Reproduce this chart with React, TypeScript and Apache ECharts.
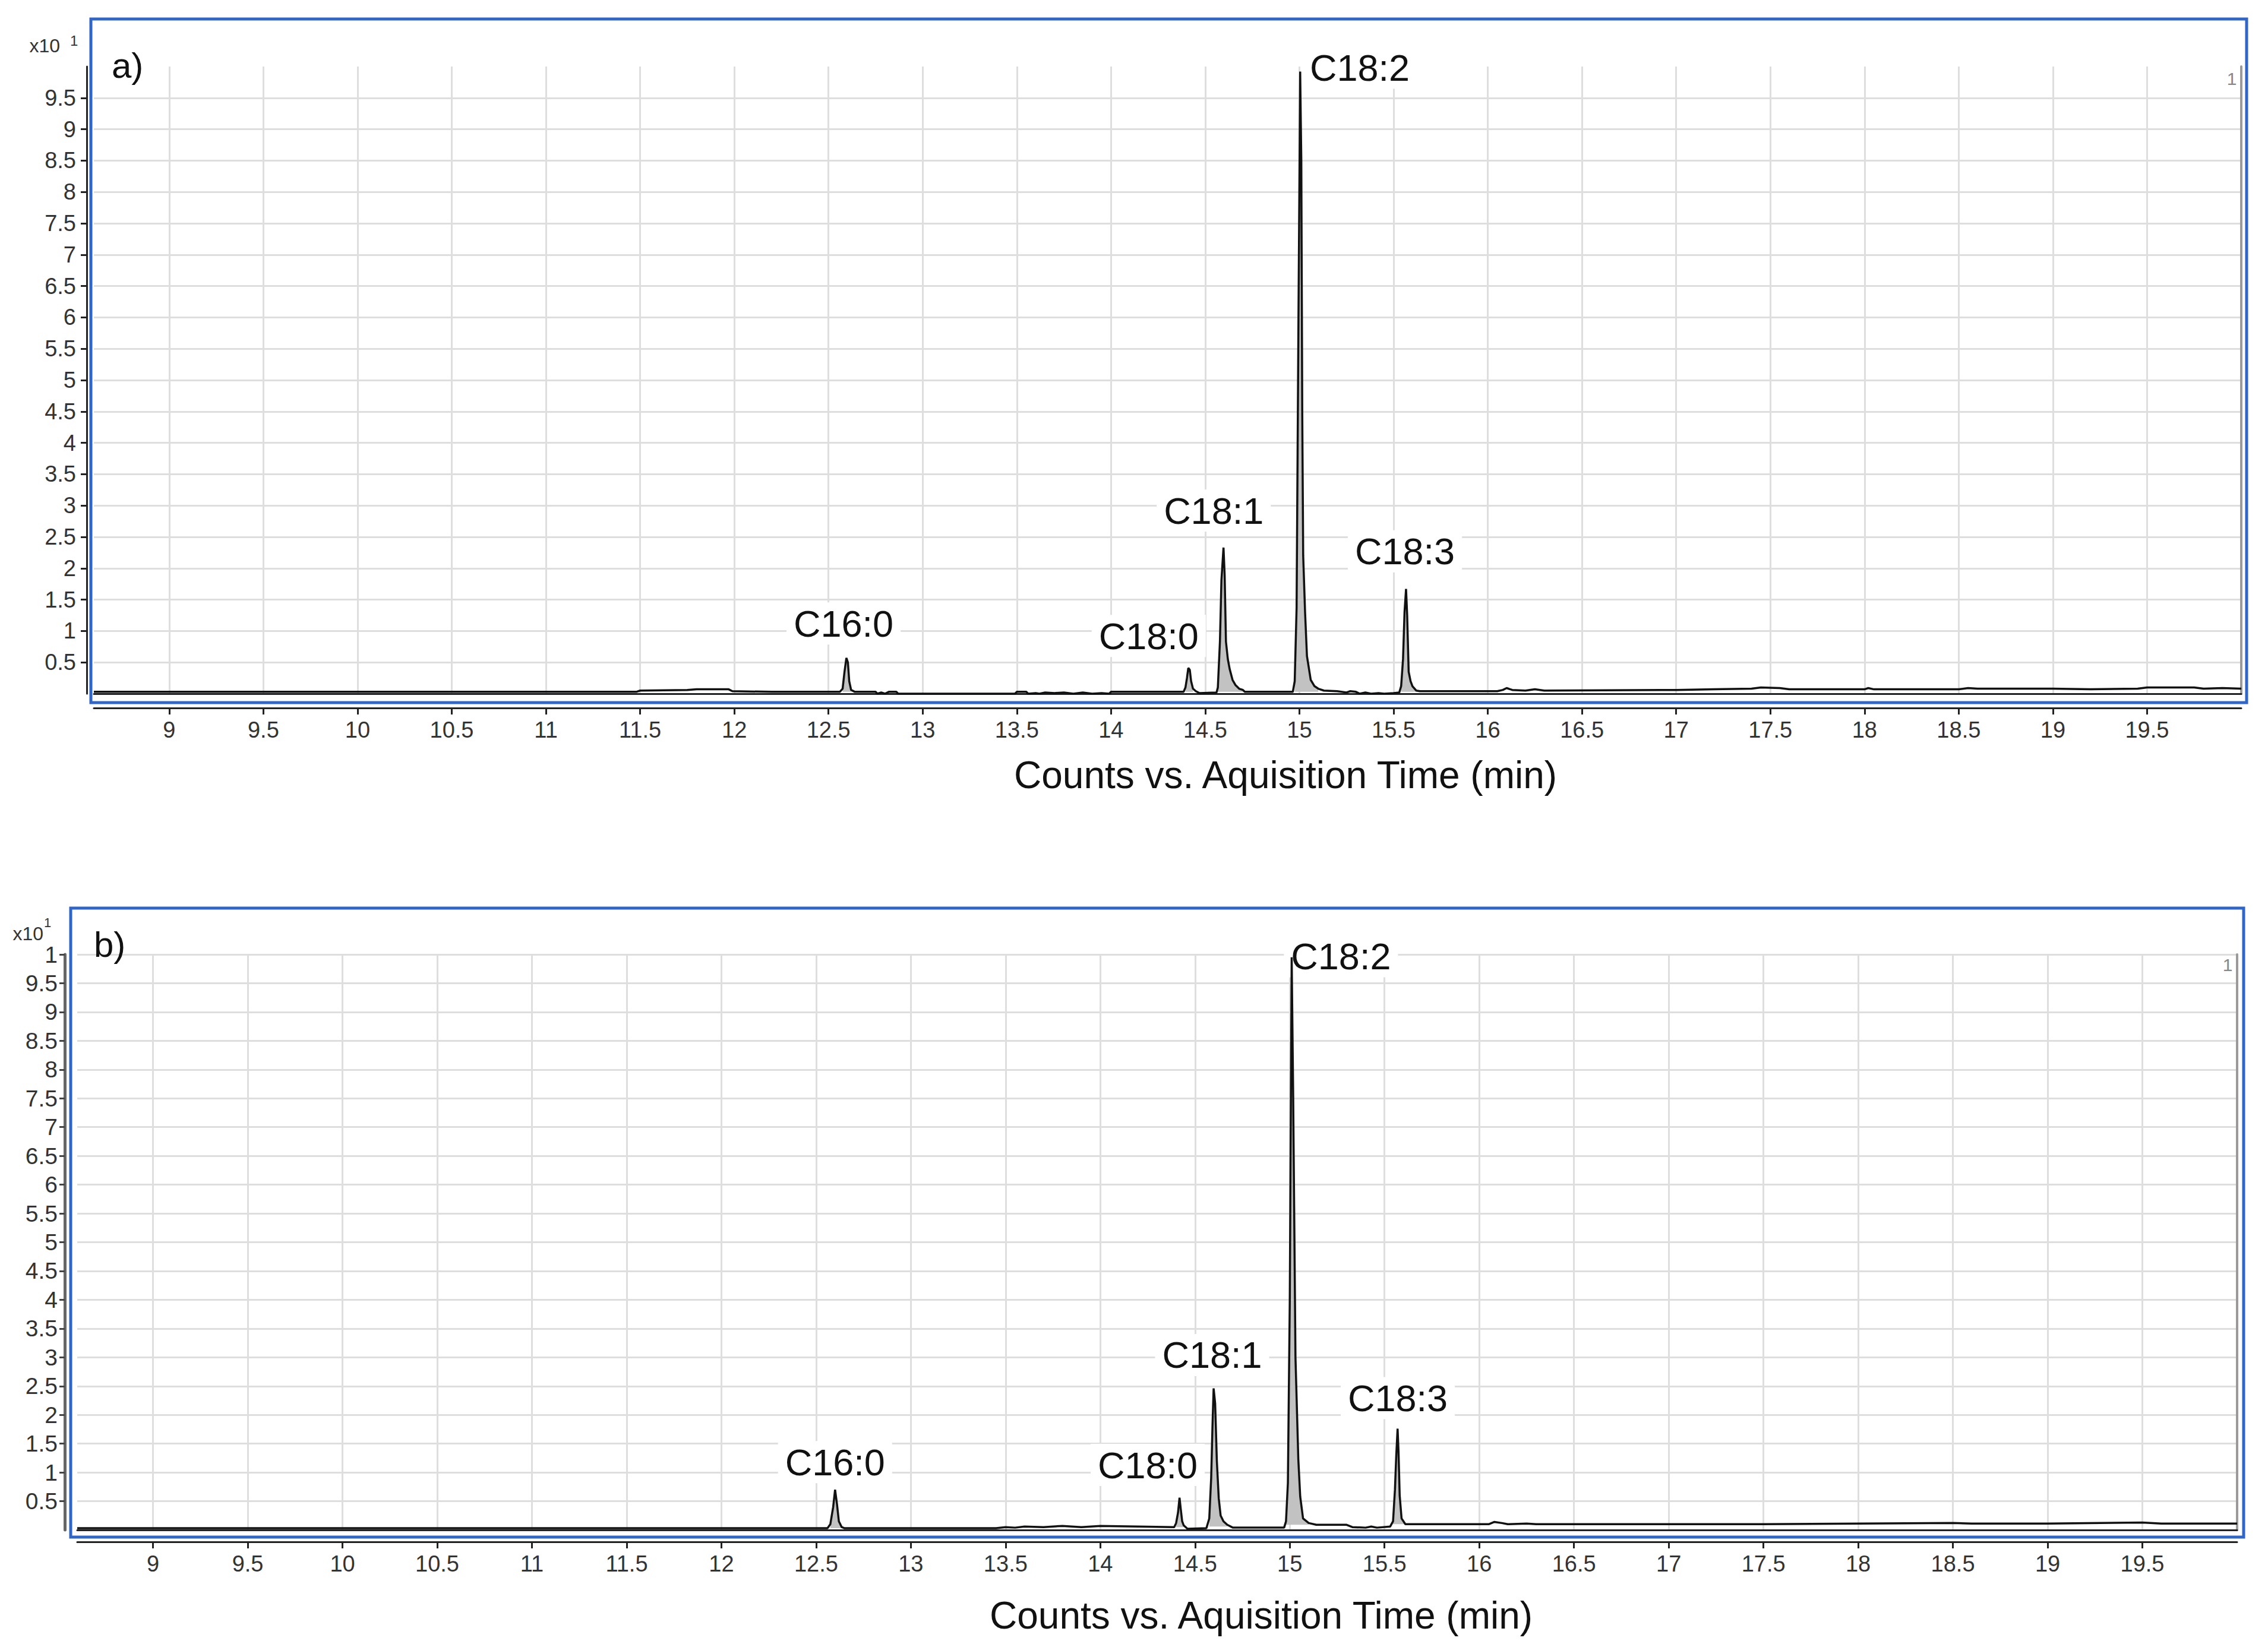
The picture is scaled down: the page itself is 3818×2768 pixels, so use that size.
import React, { useEffect, useRef } from "react";
import * as echarts from "echarts";

// ---------------- DATA ----------------
const xTickValues = [9, 9.5, 10, 10.5, 11, 11.5, 12, 12.5, 13, 13.5, 14, 14.5, 15, 15.5, 16, 16.5, 17, 17.5, 18, 18.5, 19, 19.5];
const yTickValuesA = [0.5, 1, 1.5, 2, 2.5, 3, 3.5, 4, 4.5, 5, 5.5, 6, 6.5, 7, 7.5, 8, 8.5, 9, 9.5];
const yTickValuesB = [0.5, 1, 1.5, 2, 2.5, 3, 3.5, 4, 4.5, 5, 5.5, 6, 6.5, 7, 7.5, 8, 8.5, 9, 9.5, 10];

const peakNames = ["C16:0", "C18:0", "C18:1", "C18:2", "C18:3"];

// Panel a) trace (time in min, counts x10^1)
const timesA = [
  8.6, 11.48, 11.5, 11.75, 11.8, 11.97, 11.99, 12.2, 12.56, 12.575, 12.585, 12.595, 12.603, 12.61, 12.62, 12.64,
  12.75, 12.76, 12.78, 12.8, 12.82, 12.86, 12.87, 13.49, 13.5, 13.55, 13.56, 13.6, 13.62, 13.65, 13.7, 13.75,
  13.8, 13.85, 13.9, 13.95, 13.99, 14.0, 14.385, 14.395, 14.403, 14.41, 14.418, 14.425, 14.435, 14.45, 14.47,
  14.56, 14.567, 14.578, 14.586, 14.597, 14.603, 14.61, 14.62, 14.63, 14.645, 14.66, 14.68, 14.7, 14.71,
  14.965, 14.975, 14.985, 14.995, 15.004, 15.01, 15.015, 15.02, 15.03, 15.04, 15.06, 15.08, 15.1, 15.13,
  15.2, 15.25, 15.27, 15.3, 15.32, 15.35, 15.38, 15.42, 15.45, 15.5, 15.53, 15.54, 15.55, 15.558, 15.566,
  15.572, 15.58, 15.59, 15.6, 15.62, 15.64, 16.05, 16.08, 16.1, 16.13, 16.2, 16.25, 16.3, 17.0, 17.2, 17.4,
  17.45, 17.55, 17.6, 18.0, 18.02, 18.05, 18.5, 18.55, 18.6, 19.0, 19.2, 19.45, 19.5, 19.75, 19.8, 19.9, 20.0,
];
const valuesA = [
  0.03, 0.03, 0.05, 0.06, 0.07, 0.07, 0.04, 0.03, 0.03, 0.08, 0.35, 0.57, 0.5, 0.2, 0.06, 0.03,
  0.03, 0.0, 0.02, 0.0, 0.03, 0.03, 0.0, 0.0, 0.03, 0.03, 0.0, 0.01, 0.0, 0.02, 0.01, 0.02,
  0.0, 0.02, 0.0, 0.01, 0.0, 0.03, 0.03, 0.1, 0.25, 0.41, 0.38, 0.2, 0.08, 0.04, 0.01,
  0.02, 0.1, 0.83, 1.81, 2.33, 1.9, 0.83, 0.55, 0.39, 0.22, 0.14, 0.08, 0.06, 0.03,
  0.03, 0.2, 1.37, 6.0, 9.92, 8.5, 4.5, 2.2, 1.3, 0.6, 0.22, 0.12, 0.08, 0.05,
  0.04, 0.02, 0.04, 0.03, 0.0, 0.02, 0.0, 0.01, 0.0, 0.01, 0.02, 0.12, 0.55, 1.3, 1.67,
  1.25, 0.35, 0.2, 0.12, 0.05, 0.04, 0.04, 0.06, 0.09, 0.06, 0.05, 0.07, 0.05, 0.06, 0.07, 0.08,
  0.1, 0.09, 0.07, 0.07, 0.09, 0.07, 0.07, 0.09, 0.08, 0.08, 0.07, 0.08, 0.1, 0.1, 0.08, 0.09, 0.08,
];

// Panel b) trace
const timesB = [
  8.6, 12.56, 12.575, 12.59, 12.6, 12.61, 12.62, 12.635, 12.65, 13.45, 13.5, 13.55, 13.6, 13.7, 13.8, 13.9,
  14.0, 14.2, 14.39, 14.4, 14.41, 14.418, 14.425, 14.432, 14.44, 14.46, 14.56, 14.575, 14.585, 14.592, 14.598,
  14.606, 14.615, 14.625, 14.635, 14.65, 14.67, 14.7, 14.97, 14.98, 14.99, 15.0, 15.01, 15.018, 15.03, 15.045,
  15.055, 15.07, 15.1, 15.14, 15.3, 15.33, 15.4, 15.43, 15.46, 15.53, 15.545, 15.555, 15.562, 15.569, 15.574,
  15.58, 15.59, 15.61, 16.05, 16.08, 16.12, 16.15, 16.25, 16.3, 17.0, 17.5, 18.0, 18.5, 18.6, 19.0, 19.5, 19.6, 20.0,
];
const valuesB = [
  0.03, 0.03, 0.1, 0.4, 0.7, 0.45, 0.15, 0.05, 0.03, 0.03, 0.05, 0.04, 0.06, 0.05, 0.07, 0.05,
  0.07, 0.06, 0.05, 0.12, 0.3, 0.56, 0.35, 0.15, 0.08, 0.02, 0.03, 0.2, 0.9, 1.8, 2.46,
  2.2, 1.2, 0.55, 0.25, 0.15, 0.09, 0.04, 0.04, 0.15, 0.82, 4.0, 9.95, 7.5, 3.0, 1.23,
  0.58, 0.2, 0.12, 0.09, 0.09, 0.05, 0.04, 0.06, 0.04, 0.06, 0.15, 0.7, 1.3, 1.76, 1.35,
  0.6, 0.2, 0.1, 0.1, 0.14, 0.12, 0.1, 0.11, 0.1, 0.1, 0.1, 0.11, 0.12, 0.11, 0.11, 0.13, 0.11, 0.11,
];

// integration windows [start, end] and their local baselines
const peakWindowsA = [[12.57, 12.63], [14.39, 14.44], [14.565, 14.7], [14.97, 15.1], [15.535, 15.62]];
const peakBaseA = [0.03, 0.03, 0.03, 0.03, 0.03];
const peakWindowsB = [[12.57, 12.635], [14.4, 14.44], [14.575, 14.67], [14.98, 15.1], [15.545, 15.61]];
const peakBaseB = [0.03, 0.05, 0.06, 0.09, 0.1];

// label anchors (data coordinates of label centres)
const labelAnchorsA = [[12.58, 1.12], [14.2, 0.92], [14.545, 2.92], [15.32, 9.98], [15.56, 2.27]];
const labelAnchorsB = [[12.6, 1.18], [14.25, 1.13], [14.59, 3.04], [15.27, 9.97], [15.57, 2.29]];

// ---------------- STYLE ----------------
const SANS = "'Liberation Sans', Arial, sans-serif";
const NARROW = "'Liberation Sans Narrow', 'Liberation Sans', Arial, sans-serif";
const GRID_COLOR = "#dedede";
const BLUE = "#2f66c8";

function zip(ts: number[], vs: number[]) {
  return ts.map((t, i) => [t, vs[i]]);
}

function mainX(gridIndex: number, offset: number) {
  return {
    type: "value",
    gridIndex,
    min: 8.6,
    max: 20,
    offset,
    axisLine: { show: true, onZero: false, lineStyle: { color: "#222", width: 3 } },
    axisTick: { show: true, customValues: xTickValues, length: 11, lineStyle: { color: "#222", width: 3 } },
    axisLabel: {
      show: true,
      customValues: xTickValues,
      formatter: (v: number) => String(v),
      margin: 18,
      fontSize: 38,
      fontFamily: NARROW,
      color: "#333",
    },
    splitLine: { show: true, lineStyle: { color: GRID_COLOR, width: 3 } },
  };
}

function frameX(gridIndex: number) {
  return {
    type: "value",
    gridIndex,
    min: 8.6,
    max: 20,
    position: "bottom",
    offset: 0,
    axisLine: { show: true, onZero: false, lineStyle: { color: "#222", width: 3 } },
    axisTick: { show: false },
    axisLabel: { show: false },
    splitLine: { show: false },
  };
}

function rightY(gridIndex: number) {
  return {
    type: "value",
    gridIndex,
    min: 0,
    max: 10,
    position: "right",
    axisLine: { show: true, onZero: false, lineStyle: { color: "#9a9a9a", width: 4 } },
    axisTick: { show: false },
    axisLabel: { show: false },
    splitLine: { show: false },
  };
}

function traceSeries(xi: number, yi: number, data: number[][], anchors: number[][]) {
  return {
    type: "line",
    xAxisIndex: xi,
    yAxisIndex: yi,
    data,
    showSymbol: false,
    symbol: "none",
    lineStyle: { color: "#111", width: 3.5 },
    z: 5,
    markPoint: {
      symbol: "rect",
      symbolSize: 0,
      silent: true,
      data: peakNames.map((n, i) => ({
        name: n,
        coord: anchors[i],
        label: {
          show: true,
          position: "inside",
          formatter: n,
          fontSize: 63,
          fontFamily: SANS,
          color: "#111",
          backgroundColor: "#ffffff",
          padding: [4, 12],
        },
      })),
    },
  };
}

function fillSeries(xi: number, yi: number, ts: number[], vs: number[], windows: number[][], bases: number[]) {
  return windows.map((w, k) => ({
    type: "line",
    xAxisIndex: xi,
    yAxisIndex: yi,
    data: zip(ts, vs).filter((p) => p[0] >= w[0] && p[0] <= w[1]),
    showSymbol: false,
    symbol: "none",
    lineStyle: { width: 0, opacity: 0 },
    areaStyle: { color: "#c2c2c2", opacity: 1, origin: bases[k] },
    z: 3,
  }));
}

export default function App() {
  const ref = useRef<HTMLDivElement>(null);
  useEffect(() => {
    document.body.style.margin = "0";
    const chart = echarts.init(ref.current!, null, { renderer: "svg" });
    const dataA = zip(timesA, valuesA);
    const dataB = zip(timesB, valuesB);

    const option: any = {
      animation: false,
      backgroundColor: "#ffffff",
      grid: [
        { left: 158, right: 45, top: 112, bottom: 2768 - 1168 },
        { left: 130, right: 52, top: 1607, bottom: 2768 - 2576 },
      ],
      xAxis: [mainX(0, 24), frameX(0), mainX(1, 20), frameX(1)],
      yAxis: [
        {
          type: "value",
          gridIndex: 0,
          min: 0,
          max: 10,
          offset: 12,
          axisLine: { show: true, onZero: false, lineStyle: { color: "#222", width: 3 } },
          axisTick: { show: true, customValues: yTickValuesA, length: 10, lineStyle: { color: "#222", width: 3 } },
          axisLabel: {
            customValues: yTickValuesA,
            formatter: (v: number) => String(v),
            margin: 18,
            fontSize: 38,
            fontFamily: NARROW,
            color: "#333",
          },
          splitLine: { show: true, lineStyle: { color: GRID_COLOR, width: 3 } },
        },
        rightY(0),
        {
          type: "value",
          gridIndex: 1,
          min: 0,
          max: 10,
          offset: 21,
          axisLine: { show: true, onZero: false, lineStyle: { color: "#666", width: 5 } },
          axisTick: { show: true, customValues: yTickValuesB, length: 9, lineStyle: { color: "#444", width: 3 } },
          axisLabel: {
            customValues: yTickValuesB,
            formatter: (v: number) => (v === 10 ? "1" : String(v)),
            margin: 12,
            fontSize: 39,
            fontFamily: SANS,
            color: "#333",
          },
          splitLine: { show: true, lineStyle: { color: GRID_COLOR, width: 3 } },
        },
        rightY(1),
      ],
      series: [
        ...fillSeries(0, 0, timesA, valuesA, peakWindowsA, peakBaseA),
        traceSeries(0, 0, dataA, labelAnchorsA),
        ...fillSeries(2, 2, timesB, valuesB, peakWindowsB, peakBaseB),
        traceSeries(2, 2, dataB, labelAnchorsB),
      ],
      graphic: [
        { type: "rect", shape: { x: 153, y: 32, width: 3782 - 153, height: 1183 - 32 }, style: { fill: "none", stroke: BLUE, lineWidth: 5 }, z: 10 },
        { type: "rect", shape: { x: 119, y: 1529, width: 3777 - 119, height: 2588 - 1529 }, style: { fill: "none", stroke: BLUE, lineWidth: 5 }, z: 10 },
        { type: "text", x: 188, y: 110, style: { text: "a)", fontSize: 60, fontFamily: SANS, fill: "#111", verticalAlign: "middle" }, z: 10 },
        { type: "text", x: 158, y: 1590, style: { text: "b)", fontSize: 60, fontFamily: SANS, fill: "#111", verticalAlign: "middle" }, z: 10 },
        { type: "text", x: 101, y: 77, style: { text: "x10", fontSize: 32, fontFamily: NARROW, fill: "#333", align: "right", verticalAlign: "middle" } },
        { type: "text", x: 118, y: 68, style: { text: "1", fontSize: 24, fontFamily: NARROW, fill: "#333", verticalAlign: "middle" } },
        { type: "text", x: 73, y: 1572, style: { text: "x10", fontSize: 32, fontFamily: NARROW, fill: "#333", align: "right", verticalAlign: "middle" } },
        { type: "text", x: 74, y: 1553, style: { text: "1", fontSize: 22, fontFamily: NARROW, fill: "#333", verticalAlign: "middle" } },
        { type: "text", x: 3757, y: 132, style: { text: "1", fontSize: 30, fontFamily: NARROW, fill: "#888", align: "center", verticalAlign: "middle" } },
        { type: "text", x: 3750, y: 1624, style: { text: "1", fontSize: 30, fontFamily: NARROW, fill: "#888", align: "center", verticalAlign: "middle" } },
        { type: "text", x: 1707, y: 1305, style: { text: "Counts vs. Aquisition Time (min)", fontSize: 64, fontFamily: SANS, fill: "#111", verticalAlign: "middle" } },
        { type: "text", x: 1666, y: 2720, style: { text: "Counts vs. Aquisition Time (min)", fontSize: 64, fontFamily: SANS, fill: "#111", verticalAlign: "middle" } },
      ],
    };
    chart.setOption(option);
    return () => chart.dispose();
  }, []);
  return <div ref={ref} style={{ position: "absolute", left: 0, top: 0, width: 3818, height: 2768 }} />;
}
